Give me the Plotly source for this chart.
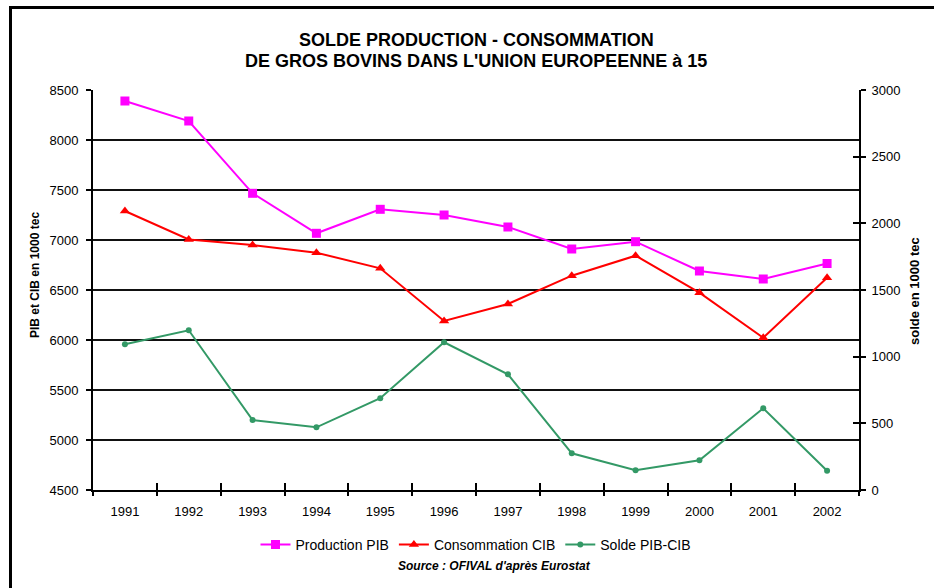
import plotly.graph_objects as go

years = ["1991", "1992", "1993", "1994", "1995", "1996", "1997", "1998", "1999", "2000", "2001", "2002"]
production_pib = [8390, 8190, 7467, 7067, 7307, 7250, 7130, 6910, 6983, 6690, 6610, 6765]
consommation_cib = [7290, 7005, 6950, 6873, 6717, 6190, 6360, 6643, 6843, 6473, 6023, 6623]
solde_pib_cib = [1093, 1198, 525, 470, 688, 1108, 868, 275, 148, 223, 613, 145]

left_ticks = [4500, 5000, 5500, 6000, 6500, 7000, 7500, 8000, 8500]
right_ticks = [0, 500, 1000, 1500, 2000, 2500, 3000]

W, H = 934, 588
L, R, T, B = 93, 859, 90, 490


def px(x):
    return (x - L) / (R - L)


def py(y):
    return (B - y) / (B - T)


FONT = "Liberation Sans, Arial, sans-serif"

fig = go.Figure()
fig.add_trace(go.Scatter(
    x=years, y=production_pib, name="Production PIB", mode="lines+markers",
    line=dict(color="#FF00FF", width=2),
    marker=dict(symbol="square", size=9, color="#FF00FF"),
    xaxis="x", yaxis="y"))
fig.add_trace(go.Scatter(
    x=years, y=consommation_cib, name="Consommation CIB", mode="lines+markers",
    line=dict(color="#FF0000", width=2),
    marker=dict(symbol="triangle-up", size=9, color="#FF0000"),
    xaxis="x", yaxis="y"))
fig.add_trace(go.Scatter(
    x=years, y=solde_pib_cib, name="Solde PIB-CIB", mode="lines+markers",
    line=dict(color="#339966", width=2),
    marker=dict(symbol="circle", size=6, color="#339966"),
    xaxis="x", yaxis="y2"))
# invisible helper trace so overlay axes (crossing ticks) render
fig.add_trace(go.Scatter(x=years, y=solde_pib_cib, xaxis="x2", yaxis="y3",
                         mode="markers", marker=dict(opacity=0), showlegend=False,
                         hoverinfo="skip"))

fig.update_layout(
    width=W, height=H,
    margin=dict(l=L, r=W - R, t=T, b=H - B),
    paper_bgcolor="white", plot_bgcolor="white",
    font=dict(family=FONT, size=13, color="black"),
    showlegend=True,
    legend=dict(orientation="h", x=0.5, xanchor="center", y=py(545), yanchor="middle",
                font=dict(size=14, family=FONT), itemwidth=30, tracegroupgap=0,
                bgcolor="rgba(0,0,0,0)"),
    xaxis=dict(type="category", range=[-0.5, 11.5], tickson="boundaries",
               ticks="outside", ticklen=4, tickwidth=2, tickcolor="black",
               ticklabelstandoff=8,
               showline=True, linecolor="black", linewidth=2,
               showgrid=False, tickfont=dict(size=13, family=FONT), fixedrange=True),
    xaxis2=dict(type="category", range=[-0.5, 11.5], tickson="boundaries",
                overlaying="x", ticks="inside", ticklen=7, tickwidth=2, tickcolor="black",
                showticklabels=False, showgrid=False, showline=False, anchor="y"),
    yaxis=dict(range=[4500, 8500], tickvals=left_ticks, ticks="outside", ticklen=5,
               tickwidth=2, tickcolor="black", ticklabelstandoff=5,
               showline=True, linecolor="black",
               linewidth=2, showgrid=True, gridcolor="#111111", gridwidth=2,
               zeroline=False, tickfont=dict(size=13, family=FONT)),
    yaxis2=dict(range=[0, 3000], tickvals=right_ticks, overlaying="y", side="right",
                ticks="outside", ticklen=5, tickwidth=2, tickcolor="black",
                ticklabelstandoff=3,
                showline=True, linecolor="black", linewidth=2, showgrid=False,
                zeroline=False, tickfont=dict(size=13, family=FONT)),
    yaxis3=dict(range=[0, 3000], tickvals=right_ticks, overlaying="y", side="right",
                anchor="x", ticks="inside", ticklen=6, tickwidth=2, tickcolor="black",
                showticklabels=False, showline=False, showgrid=False, zeroline=False),
)

ann = [
    dict(text="<b>SOLDE PRODUCTION - CONSOMMATION</b>", x=0.5, y=py(40),
         font=dict(size=18)),
    dict(text="<b>DE GROS BOVINS DANS L'UNION EUROPEENNE à 15</b>", x=0.5, y=py(61),
         font=dict(size=18)),
    dict(text="<b>PIB et CIB en 1000 tec</b>", x=px(35), y=py(275), textangle=-90,
         font=dict(size=12)),
    dict(text="<b>solde en 1000 tec</b>", x=px(914), y=py(291), textangle=-90,
         font=dict(size=13)),
    dict(text="<b><i>Source : OFIVAL d'après Eurostat</i></b>", x=px(495), y=py(566),
         font=dict(size=12)),
]
for a in ann:
    a.update(xref="paper", yref="paper", showarrow=False, xanchor="center",
             yanchor="middle")
    a["font"]["family"] = FONT
    a["font"]["color"] = "black"
fig.update_layout(annotations=ann)

fig.update_layout(shapes=[
    dict(type="line", xref="paper", yref="paper", x0=px(9), x1=px(934),
         y0=py(7.5), y1=py(7.5), line=dict(color="black", width=3)),
    dict(type="line", xref="paper", yref="paper", x0=px(10.5), x1=px(10.5),
         y0=py(6), y1=py(588), line=dict(color="black", width=3)),
])

fig.write_html("out.html", config={"displayModeBar": False},
               post_script="document.body.style.margin='0';document.body.style.padding='0';")
